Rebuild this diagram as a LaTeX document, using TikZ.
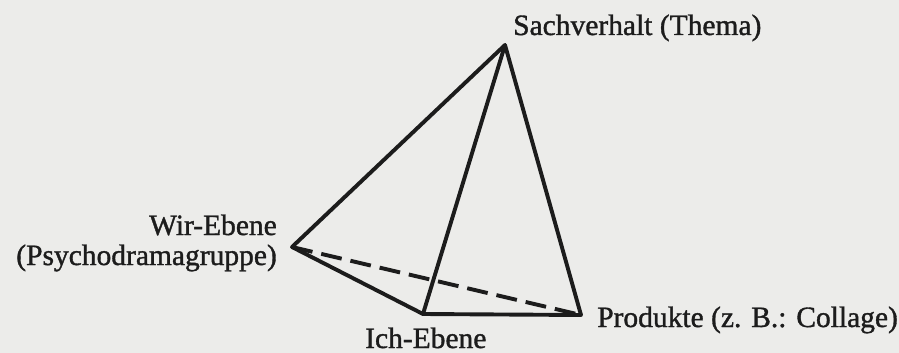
\documentclass[tikz,border=0pt]{standalone}
\usepackage{fontspec}
\setmainfont{Liberation Serif}
\newfontfamily\scanfont{Liberation Serif}[FakeBold=1.2]
\usepackage{xcolor}
\definecolor{paper}{RGB}{236,236,234}
\definecolor{ink}{RGB}{28,28,28}
\usetikzlibrary{positioning}
\tikzset{
  edge/.style={ink, line width=3.9pt, line join=round, line cap=round},
  hidden/.style={ink, line width=3.9pt, dash pattern=on 21pt off 9pt},
  lbl/.style={font=\scanfont\fontsize{29.5}{35}\selectfont, text=ink, inner sep=0pt}
}
\begin{document}
\begin{tikzpicture}[x=1pt, y=-1pt]
  % Paper
  \fill[paper] (0,0) rectangle (899,353);
  \useasboundingbox (0,0) rectangle (899,353);

  % Corners of the tetrahedron
  \coordinate (thema) at (505,45);
  \coordinate (wir) at (292,247);
  \coordinate (ich) at (423,314);
  \coordinate (produkte) at (581,315);

  % Edges (hidden one dashed)
  \draw[hidden] (wir) -- (produkte);
  \draw[edge] (wir) -- (thema) -- (produkte) -- (ich) -- cycle;
  \draw[edge] (thema) -- (ich);

  % Labels
  \node[lbl, anchor=base west] (thema-lbl) at (513,35) {Sachverhalt (Thema)};
  \node[lbl, anchor=base east] (wir-lbl) at (277,235) {Wir-Ebene};
  \node[lbl, anchor=base east] (gruppe-lbl) at (277,265) {(Psychodramagruppe)};
  \node[lbl, anchor=base west] (ich-lbl) at (365,348) {Ich-Ebene};
  \node[lbl, anchor=base west] (produkte-lbl) at (597,327) {Produkte (z. B.: Collage)};
\end{tikzpicture}
\end{document}
